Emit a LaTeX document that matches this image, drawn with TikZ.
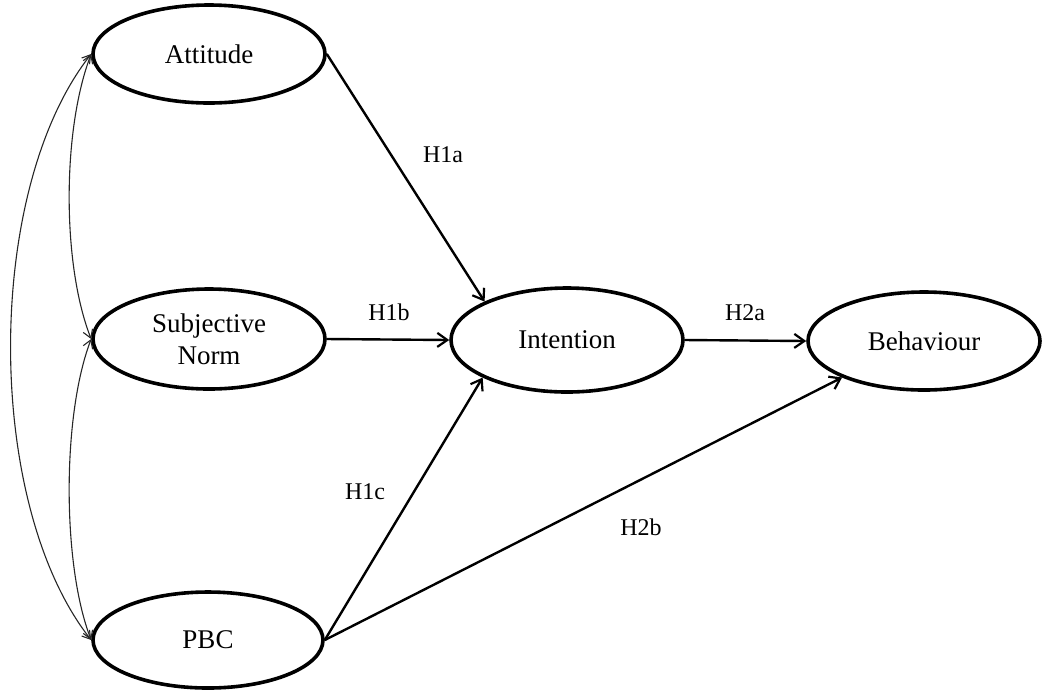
\documentclass[tikz,border=0pt]{standalone}
\usepackage{fontspec}
\setmainfont{Liberation Serif}
\usetikzlibrary{shapes.geometric,arrows.meta}
\tikzset{
  construct/.style={ellipse,draw,line width=1.8pt,inner sep=0pt,minimum width=116pt,minimum height=49pt,align=center,font=\fontsize{13.5}{16}\selectfont},
  path arrow/.style={line width=1.2pt,-{Straight Barb[length=5pt,width=7pt,line width=1.1pt]}},
  cov/.style={line width=0.55pt,draw=black!85,{Straight Barb[length=4pt,width=5pt]}-{Straight Barb[length=4pt,width=5pt]}},
  hyp/.style={font=\fontsize{12}{14}\selectfont,inner sep=0pt}
}
\begin{document}
\begin{tikzpicture}[x=0.5pt,y=-0.5pt]
\useasboundingbox (0,0) rectangle (1048,698);
\node[construct] (att) at (209,54) {Attitude};
\node[construct,minimum height=50pt] (sn) at (209,339) {Subjective\\Norm};
\node[construct,minimum width=115pt,minimum height=48pt] (pbc) at (208,640) {PBC};
\node[construct,minimum height=52pt] (int) at (567,340) {Intention};
\node[construct] (beh) at (924,341) {Behaviour};

\draw[path arrow] (att.east) -- (int.155.7);
\draw[path arrow] (sn.east) -- (int.west);
\draw[path arrow] (pbc.east) -- (int.204.3);
\draw[path arrow] (int.east) -- (beh.west);
\draw[path arrow] (pbc.east) -- (beh.204);

\draw[cov] (att.west) .. controls (62,130) and (62,265) .. (sn.west);
\draw[cov] (sn.west) .. controls (62,415) and (62,565) .. (pbc.west);
\draw[cov] (att.west) .. controls (-16,190) and (-16,504) .. (pbc.west);

\node[hyp] (h1a) at (443,155) {H1a};
\node[hyp] (h1b) at (389,312) {H1b};
\node[hyp] (h1c) at (365,492) {H1c};
\node[hyp] (h2a) at (745,313) {H2a};
\node[hyp] (h2b) at (641,527) {H2b};
\end{tikzpicture}
\end{document}
